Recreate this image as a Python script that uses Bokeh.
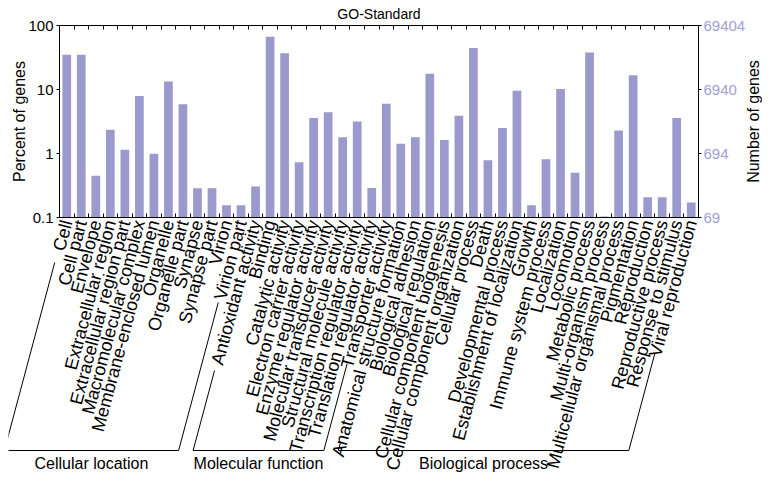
import math
from bokeh.plotting import figure
from bokeh.models import (Range1d, LogScale, LogAxis, LinearAxis, FixedTicker,
                          CustomJSTickFormatter)
from bokeh.embed import file_html
from bokeh.resources import INLINE
from bokeh.core.properties import value

# ---------------- data ----------------
cellular_location = ["Cell", "Cell part", "Envelope", "Extracellular region",
                     "Extracellular region part", "Macromolecular complex",
                     "Membrane-enclosed lumen", "Organelle", "Organelle part",
                     "Synapse", "Synapse part", "Virion", "Virion part"]
cellular_pct = [35, 35, 0.45, 2.35, 1.14, 7.9, 0.99, 13.3, 5.9, 0.287, 0.287, 0.156, 0.156]

molecular_function = ["Antioxidant activity", "Binding", "Catalytic activity",
                      "Electron carrier activity", "Enzyme regulator activity",
                      "Molecular transducer activity", "Structural molecule activity",
                      "Transcription regulator activity", "Translation regulator activity",
                      "Transporter activity"]
molecular_pct = [0.305, 67, 37, 0.73, 3.6, 4.4, 1.8, 3.15, 0.29, 6.0]

biological_process = ["Anatomical structure formation", "Biological adhesion",
                      "Biological regulation", "Cellular component biogenesis",
                      "Cellular component organization", "Cellular process", "Death",
                      "Developmental process", "Establishment of localization", "Growth",
                      "Immune system process", "Localization", "Locomotion",
                      "Metabolic process", "Multi-organism process",
                      "Multicellular organismal process", "Pigmentation", "Reproduction",
                      "Reproductive process", "Response to stimulus", "Viral reproduction"]
biological_pct = [1.42, 1.8, 17.6, 1.63, 3.9, 44.7, 0.785, 2.5, 9.6, 0.155, 0.81, 10.2,
                  0.5, 38, 0.104, 2.29, 16.7, 0.208, 0.208, 3.6, 0.171]

group_names = ["Cellular location", "Molecular function", "Biological process"]
percent_ticks = [0.1, 1, 10, 100]
total_genes = 69404
y_title_left = "Percent of genes"
y_title_right = "Number of genes"

# ---------------- layout / style ----------------
FONT = "Liberation Sans"
BAR_COLOR = "#9c99cd"
RIGHT_COLOR = "#a39ed9"
FW, FH = 639, 192
LB, RB = 51, 64
TOP = 17         # title panel height of the bar figure
B = 12           # bottom border of the bar figure
TOTAL_H = 465
PAGE_LEFT = 8
ANG = math.radians(75)
# vertical depth (px below the axis) of bracket tops for first/last label of each group
bracket_depth = [(45, 85), (153, 146), (224, 136)]
LABEL_GAP = 3
BRACKET_Y = 233
GROUP_LABEL_Y = 246
LEFT_TITLE_X = 11      # canvas x of the left axis title centre
RIGHT_TITLE_X = 745    # canvas x of the right axis title centre

groups = [cellular_location, molecular_function, biological_process]
categories = cellular_location + molecular_function + biological_process
values = cellular_pct + molecular_pct + biological_pct
n = len(categories)
xs = [i + 0.5 for i in range(n)]

# ---------------- bar figure ----------------
p = figure(x_range=Range1d(0, n), y_range=Range1d(0.1, 100), y_axis_type="log",
           frame_width=FW, frame_height=FH,
           min_border_left=LB, min_border_right=RB, min_border_top=0, min_border_bottom=B,
           x_axis_location=None, output_backend="svg", toolbar_location=None,
           title="GO-Standard")
p.margin = (0, 0, 0, PAGE_LEFT)
p.grid.visible = False
p.outline_line_color = "black"
p.background_fill_color = "white"
p.border_fill_color = "white"
p.title.align = "center"
p.title.text_font = FONT
p.title.text_font_size = "14px"
p.title.text_font_style = "normal"
p.title.text_color = "black"
p.title.standoff = 7
p.title.offset = 0

p.vbar(x=xs, top=values, bottom=0.1, width=0.6, fill_color=BAR_COLOR, line_color=None)

blank = CustomJSTickFormatter(code="return '';")
for side in ("below", "above"):
    ax = LinearAxis(ticker=FixedTicker(ticks=list(range(1, n))), formatter=blank,
                    major_tick_in=4, major_tick_out=0, minor_tick_line_color=None,
                    major_label_standoff=0, major_label_text_font_size="0px",
                    axis_line_color="black", major_tick_line_color="black")
    p.add_layout(ax, side)

ya = p.yaxis[0]
ya.ticker = FixedTicker(ticks=percent_ticks)
ya.formatter = CustomJSTickFormatter(code="return tick.toString();")
ya.major_tick_out = 3
ya.major_tick_in = 0
ya.minor_tick_line_color = None
ya.major_label_standoff = 3
ya.major_label_text_font = FONT
ya.major_label_text_font_size = "15px"
ya.major_label_text_color = "black"
ya.axis_line_color = "black"
ya.major_tick_line_color = "black"

p.extra_y_ranges = {"n": Range1d(0.1 * total_genes / 100, total_genes)}
p.extra_y_scales = {"n": LogScale()}
ra = LogAxis(y_range_name="n",
             ticker=FixedTicker(ticks=[t * total_genes / 100 for t in percent_ticks]),
             formatter=CustomJSTickFormatter(code="return Math.round(tick).toString();"),
             major_tick_out=3, major_tick_in=0, minor_tick_line_color=None,
             major_label_standoff=2, major_label_text_font=FONT,
             major_label_text_font_size="15px", major_label_text_color=RIGHT_COLOR,
             axis_line_color="black", major_tick_line_color="black")
p.add_layout(ra, "right")

# ---------------- transparent overlay for texts and brackets ----------------
PX = FW / n                         # pixels per category slot
cot = 1 / math.tan(ANG)
P_H = TOP + FH + B
q = figure(x_range=Range1d(-LB / PX, n + RB / PX),
           y_range=Range1d(-(TOTAL_H - TOP - FH), TOP + FH),
           frame_width=LB + FW + RB, frame_height=TOTAL_H, min_border=0,
           x_axis_location=None, y_axis_location=None,
           output_backend="svg", toolbar_location=None)
q.margin = (-P_H, 0, 0, PAGE_LEFT)
q.grid.visible = False
q.outline_line_color = None
q.background_fill_alpha = 0
q.border_fill_alpha = 0

# category labels
q.text(x=xs, y=[-LABEL_GAP] * n, text=categories, angle=ANG,
       text_align="right", text_baseline="middle",
       text_font=value(FONT), text_font_size="18px", text_color="black")

# axis titles
q.text(x=[-(LB - LEFT_TITLE_X) / PX, n + (RIGHT_TITLE_X - LB - FW) / PX],
       y=[FH / 2, FH / 2], text=[y_title_left, y_title_right], angle=math.pi / 2,
       text_align="center", text_baseline="middle",
       text_font=value(FONT), text_font_size="16px", text_color="black")

# group brackets
bx, by, gx = [], [], []
start = 0
for g, (d0, d1) in zip(groups, bracket_depth):
    a, b = start, start + len(g) - 1
    xa, xb = a + 0.5, b + 0.5
    pts_x = [xa - d0 * cot / PX, xa - BRACKET_Y * cot / PX,
             xb - BRACKET_Y * cot / PX, xb - d1 * cot / PX]
    bx.append(pts_x)
    by.append([-d0, -BRACKET_Y, -BRACKET_Y, -d1])
    gx.append((pts_x[1] + pts_x[2]) / 2)
    start += len(g)

q.multi_line(xs=bx, ys=by, line_color="black", line_width=1)
q.text(x=gx, y=[-GROUP_LABEL_Y] * len(gx), text=group_names,
       text_align="center", text_baseline="middle",
       text_font=value(FONT), text_font_size="16px", text_color="black")

open("out.html", "w").write(file_html([p, q], INLINE))
